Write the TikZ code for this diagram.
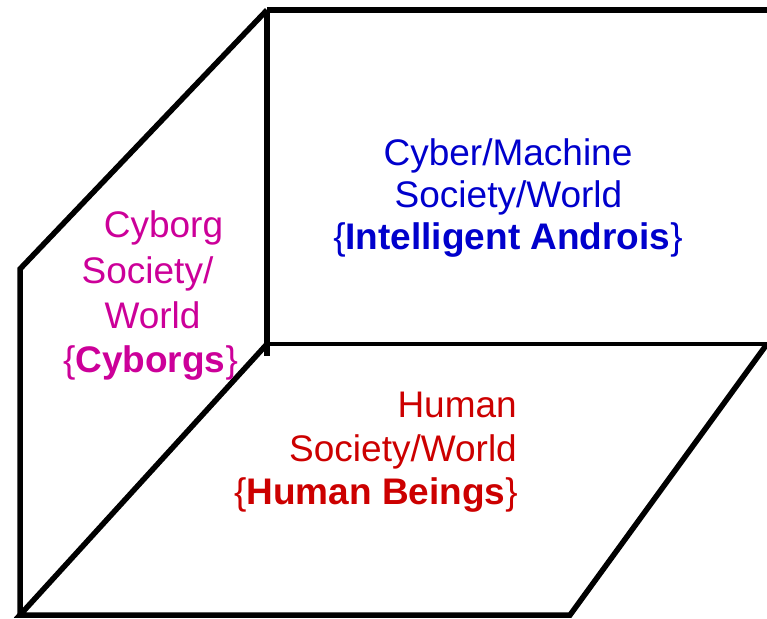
\documentclass[tikz,border=0pt]{standalone}
\usepackage{fontspec}
\setmainfont{Liberation Sans}
\definecolor{cyberblue}{RGB}{0,0,204}
\definecolor{cyborgmag}{RGB}{204,0,153}
\definecolor{humanred}{RGB}{204,0,0}
\begin{document}
\begin{tikzpicture}[x=1pt,y=-1pt,
  edge/.style={draw=black,line width=5.5pt,line join=miter},
  thinedge/.style={draw=black,line width=4.5pt},
  txt/.style={inner sep=0pt,font=\fontsize{37}{44}\selectfont},
  bluetxt/.style={txt,text=cyberblue,anchor=base},
  magtxt/.style={txt,text=cyborgmag,anchor=base},
  redtxt/.style={txt,text=humanred,anchor=base east}]
\useasboundingbox (0,0) rectangle (767,618);
% corners
\coordinate (bwTL) at (267,10);
\coordinate (bwTR) at (767,10);
\coordinate (bwBL) at (267,344);
\coordinate (bwBot) at (267,356);
\coordinate (flR) at (767,344);
\coordinate (flBR) at (570,615);
\coordinate (flBL) at (20,615);
\coordinate (lwT) at (20,269);
% back wall
\draw[edge,line width=6.5pt] (bwTR) -- (bwTL);
\draw[edge] (bwTL) -- (bwBot);
% left wall
\draw[edge] (bwTL) -- (lwT) -- (flBL);
% floor
\draw[thinedge] (bwBL) -- (flR);
\draw[edge] (flR) -- (flBR) -- (flBL) -- (bwBL);
% texts
\node[bluetxt] (c1) at (508,165) {Cyber/Machine};
\node[bluetxt] (c2) at (508.5,207) {Society/World};
\node[bluetxt] (c3) at (508,249) {\{\textbf{Intelligent Androis}\}};
\node[magtxt] (m1) at (163.5,237) {Cyborg};
\node[magtxt] (m2) at (147.5,283) {Society/};
\node[magtxt] (m3) at (152.5,328) {World};
\node[magtxt] (m4) at (150.5,372) {\{\textbf{Cyborgs}\}};
\node[redtxt] (h1) at (517,417) {Human};
\node[redtxt] (h2) at (517,461) {Society/World};
\node[redtxt] (h3) at (518,504) {\{\textbf{Human Beings}\}};
\end{tikzpicture}
\end{document}
